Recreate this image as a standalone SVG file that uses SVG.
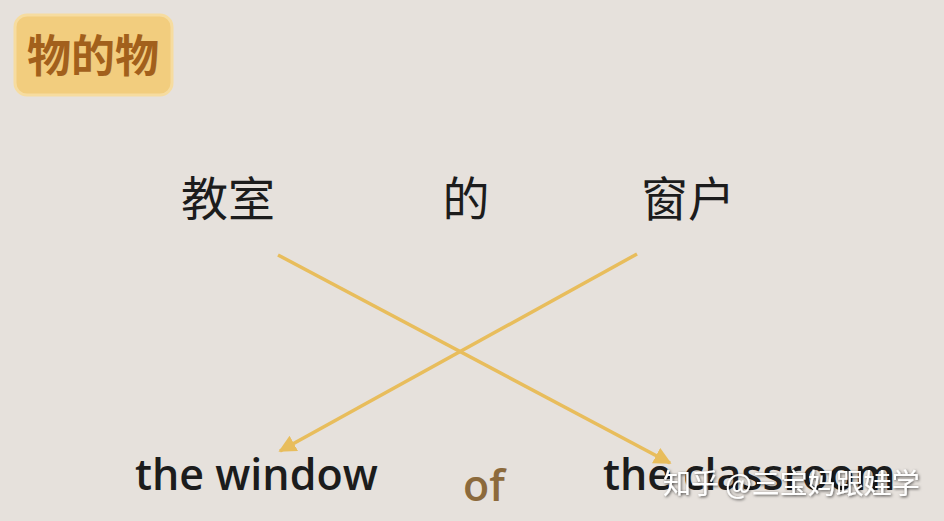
<svg xmlns="http://www.w3.org/2000/svg" width="944" height="521" viewBox="0 0 944 521">
<defs>
<style>
.zh{font-family:"Noto Sans CJK SC","Noto Sans",sans-serif;font-size:47px;fill:#1c1c1c;text-anchor:middle}
.en{font-family:"Open Sans","DejaVu Sans",sans-serif;font-size:43px;font-weight:600;fill:#1c1c1c}
.conn{stroke:#e8bd5c;stroke-width:3.5;fill:none;marker-end:url(#ah)}
</style>
<marker id="ah" viewBox="0 0 10 10" refX="9" refY="5" markerWidth="5" markerHeight="5" orient="auto" markerUnits="strokeWidth">
<path d="M0,0 L10,5 L0,10 z" fill="#e8bd5c"/>
</marker>
<filter id="sh" x="-10%" y="-30%" width="120%" height="160%">
<feDropShadow dx="1" dy="1" stdDeviation="1.5" flood-color="#000" flood-opacity="0.7"/>
</filter>
</defs>
<rect width="944" height="521" fill="#e6e1dc"/>
<g id="title">
<rect x="15" y="15" width="157" height="80" rx="12" fill="#f2cd7e" stroke="#f6dca0" stroke-width="3"/>
<text x="93" y="72" font-family="Noto Sans CJK SC,sans-serif" font-size="44" font-weight="bold" fill="#a2601c" text-anchor="middle">物的物</text>
</g>
<g id="n-jiaoshi"><text class="zh" x="228" y="216">教室</text></g>
<g id="n-de"><text class="zh" x="466" y="216">的</text></g>
<g id="n-chuanghu"><text class="zh" x="688" y="216">窗户</text></g>
<g id="connectors">
<line class="conn" x1="278" y1="255" x2="670" y2="463"/>
<line class="conn" x1="637" y1="254" x2="280" y2="451"/>
</g>
<g id="n-window"><text class="en" x="135" y="490">the window</text></g>
<g id="n-of"><text class="en" x="463" y="501" style="fill:#8c6a3c">of</text></g>
<g id="n-classroom"><text class="en" x="603" y="490">the classroom</text></g>
<g id="watermark"><text x="663" y="494" font-family="Noto Sans CJK SC,sans-serif" font-size="28" fill="#ffffff" filter="url(#sh)">知乎 @三宝妈跟娃学</text></g>
</svg>
